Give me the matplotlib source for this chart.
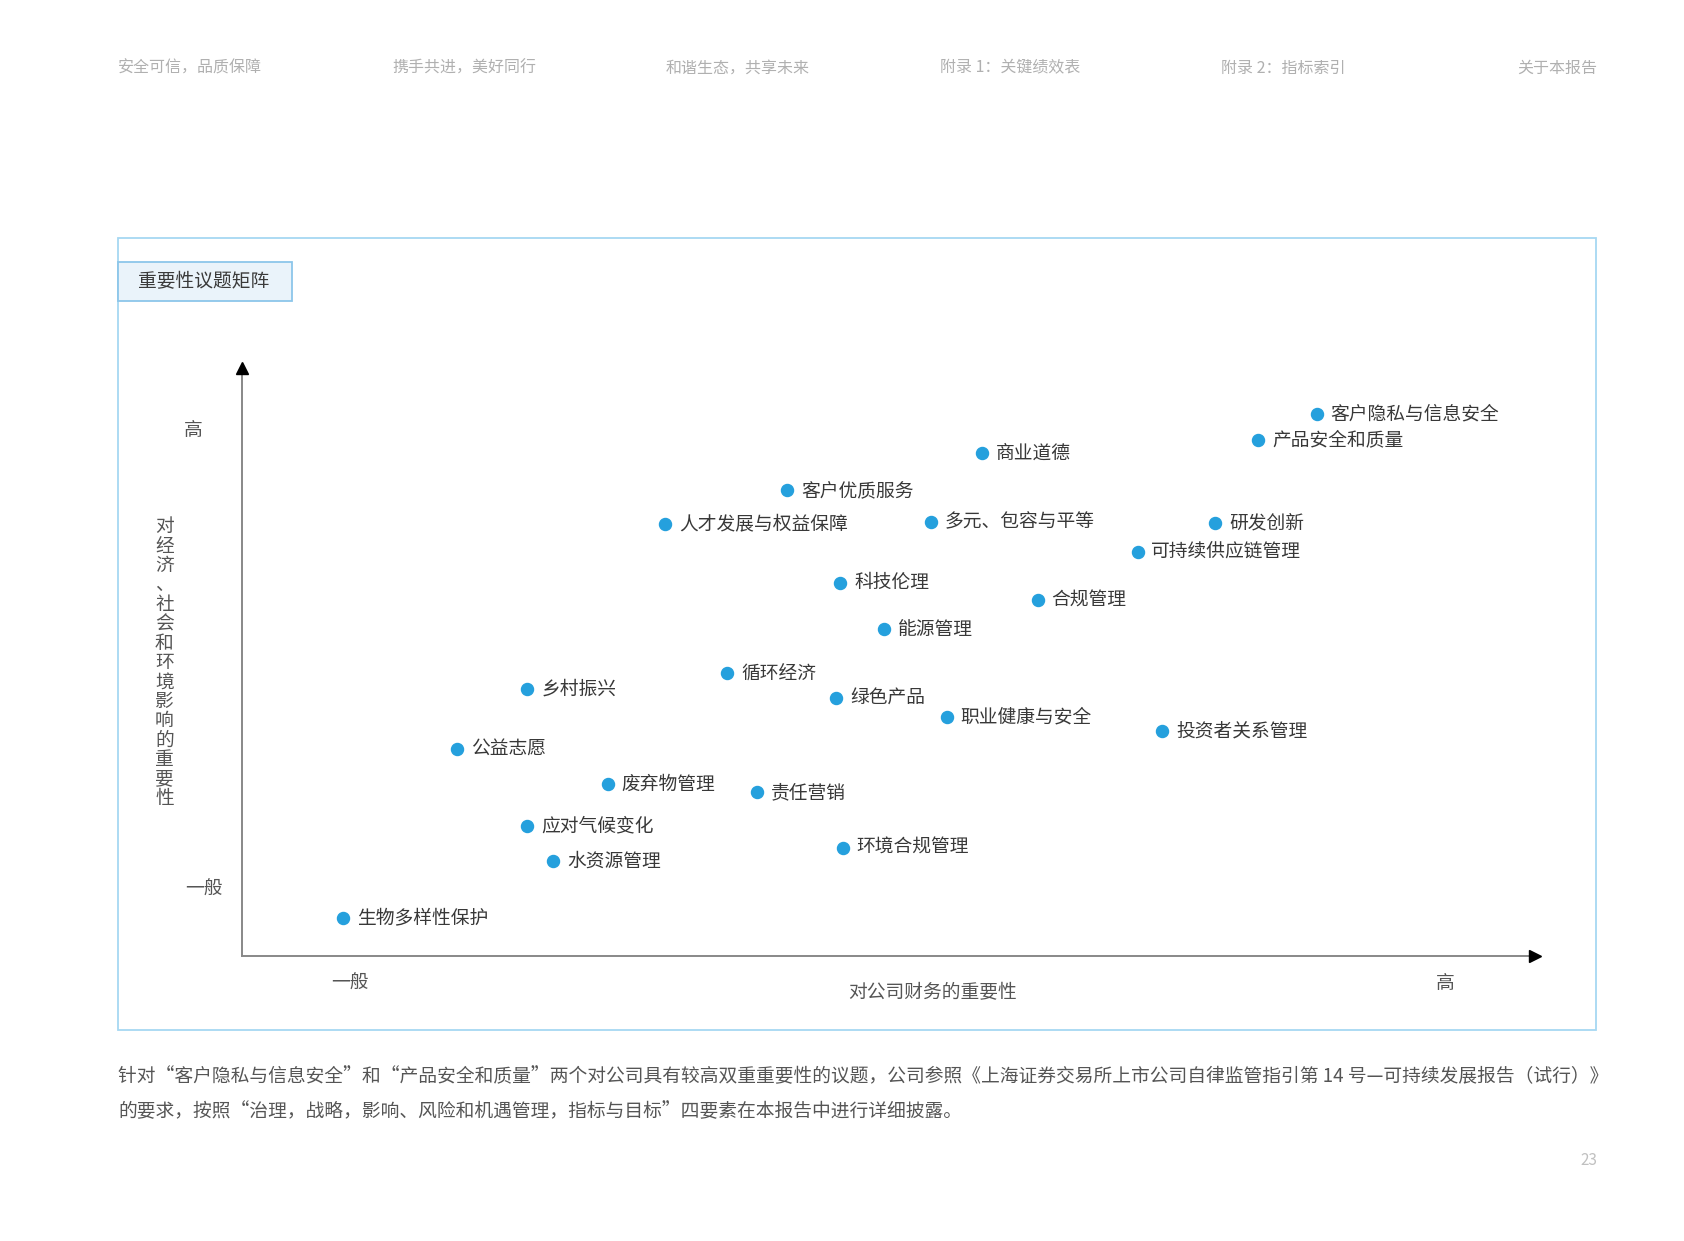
import numpy as np
import matplotlib.pyplot as plt
from matplotlib.patches import Rectangle

plt.rcParams['font.family'] = ['Noto Sans CJK SC', 'DejaVu Sans']

# 议题 / x: 对公司财务的重要性 / y: 对经济、社会和环境影响的重要性 (0-10)
topics = ['客户隐私与信息安全', '产品安全和质量', '商业道德', '客户优质服务', '人才发展与权益保障',
          '多元、包容与平等', '研发创新', '可持续供应链管理', '科技伦理', '合规管理', '能源管理',
          '循环经济', '乡村振兴', '绿色产品', '职业健康与安全', '投资者关系管理', '公益志愿',
          '废弃物管理', '责任营销', '应对气候变化', '水资源管理', '环境合规管理', '生物多样性保护']
fin = [8.28, 7.83, 5.70, 4.20, 3.26, 5.31, 7.50, 6.90, 4.61, 6.13, 4.95,
       3.74, 2.20, 4.58, 5.43, 7.09, 1.66, 2.82, 3.97, 2.20, 2.40, 4.63, 0.78]
imp = [9.15, 8.71, 8.49, 7.86, 7.30, 7.33, 7.31, 6.82, 6.30, 6.01, 5.52,
       4.77, 4.50, 4.36, 4.03, 3.79, 3.50, 2.90, 2.76, 2.20, 1.60, 1.83, 0.64]

x_ticks = [0.83, 9.27]
y_ticks = [1.13, 8.87]
level_labels = ['一般', '高']

nav = ['安全可信，品质保障', '携手共进，美好同行', '和谐生态，共享未来',
       '附录 1：关键绩效表', '附录 2：指标索引', '关于本报告']
nav_x = [110, 365, 619, 875, 1136, 1486]

W, H = 1567, 1154.8
def fx(x):
    return x / W
def fy(y):
    return 1 - (y + 1.5) / H

fig = plt.figure(figsize=(16.84, 12.41), dpi=100)

# top navigation
for i, t in enumerate(nav):
    ha = 'right' if i == len(nav) - 1 else 'left'
    fig.text(fx(nav_x[i]), fy(62), t, ha=ha, va='center', fontsize=11.5, color='#b0b0b0')

# outer frame and title tab
fig.patches.append(Rectangle((fx(110), fy(957)), fx(1485) - fx(110), fy(220) - fy(957),
                             transform=fig.transFigure, fill=False, ec='#a6d8f2', lw=1.3))
fig.patches.append(Rectangle((fx(110), fy(279)), fx(272) - fx(110), fy(242) - fy(279),
                             transform=fig.transFigure, fc='#eaf3fa', ec='#8cc6ea', lw=1.3))
fig.text(fx(128), fy(261), '重要性议题矩阵', ha='left', va='center', fontsize=13.5,
         color='#3a3a3a', weight='medium')

ax = fig.add_axes([fx(225), fy(888), fx(1433) - fx(225), fy(337) - fy(888)])
ax.set_xlim(0, 10)
ax.set_ylim(0, 10)
ax.axis('off')

# axes with arrows
ax.plot([0, 9.95], [0, 0], color='#888888', lw=1.4, clip_on=False)
ax.plot([0, 0], [0, 9.9], color='#888888', lw=1.4, clip_on=False)
ax.plot([9.96], [0], marker='>', ms=8, color='black', clip_on=False)
ax.plot([0], [9.93], marker='^', ms=8, color='black', clip_on=False)

ax.scatter(fin, imp, s=75, color='#25a0dd', zorder=3, clip_on=False)
for t, x, y in zip(topics, fin, imp):
    ax.annotate(t, (x, y), xytext=(10, 0), textcoords='offset points',
                ha='left', va='center', fontsize=13.5, color='#383838')

for x, lab in zip(x_ticks, level_labels):
    ax.text(x, -0.47, lab, ha='center', va='center', fontsize=13.5, color='#555555')
ax.text(-0.30, y_ticks[1], level_labels[1], ha='right', va='center', fontsize=13.5, color='#555555')
ax.text(-0.15, y_ticks[0], level_labels[0], ha='right', va='center', fontsize=13.5, color='#555555')

ax.text(5.32, -0.62, '对公司财务的重要性', ha='center', va='center', fontsize=13.5, color='#555555')
ylab = '对经济、社会和环境影响的重要性'
fig.text(fx(153), fy(615), '\n'.join(ylab), ha='center', va='center', fontsize=13.5,
         color='#555555', linespacing=0.9)

# footnote
note1 = '针对“客户隐私与信息安全”和“产品安全和质量”两个对公司具有较高双重重要性的议题，公司参照《上海证券交易所上市公司自律监管指引第 14 号—可持续发展报告（试行）》'
note2 = '的要求，按照“治理，战略，影响、风险和机遇管理，指标与目标”四要素在本报告中进行详细披露。'
fig.text(fx(110), fy(1000), note1, ha='left', va='center', fontsize=13.5, color='#555555')
fig.text(fx(110), fy(1033), note2, ha='left', va='center', fontsize=13.5, color='#555555')

fig.text(fx(1486), fy(1078), '23', ha='right', va='center', fontsize=11, color='#c0c0c0')

fig.savefig('out.png', dpi=100)
